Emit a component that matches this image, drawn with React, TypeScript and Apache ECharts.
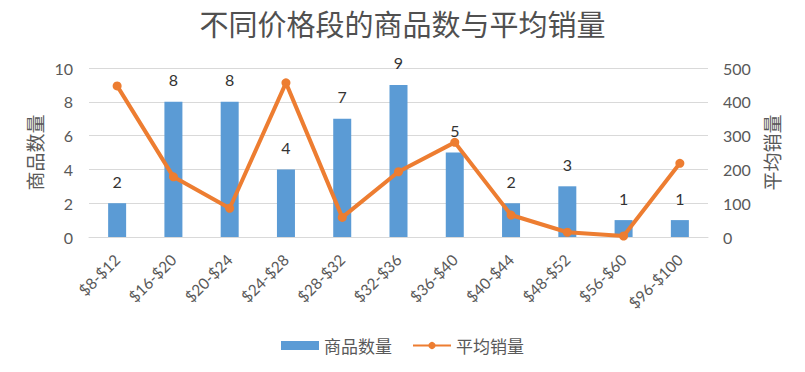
import React, { useEffect, useRef } from "react";
import * as echarts from "echarts";

const categories = ["$8-$12", "$16-$20", "$20-$24", "$24-$28", "$28-$32", "$32-$36", "$36-$40", "$40-$44", "$48-$52", "$56-$60", "$96-$100"];
const productCounts = [2, 8, 8, 4, 7, 9, 5, 2, 3, 1, 1];
const avgSales = [447, 178, 85, 456, 58, 193, 280, 65, 14, 3, 218];
const leftTicks = { min: 0, max: 10, interval: 2 };
const rightTicks = { min: 0, max: 500, interval: 100 };

const FONT = "Lato, 'Noto Sans CJK SC', sans-serif";
const CJK = "'Noto Sans CJK SC', sans-serif";

export default function App() {
  const ref = useRef<HTMLDivElement>(null);
  useEffect(() => {
    if (!ref.current) return;
    const chart = echarts.init(ref.current, null, { renderer: "svg" });
    chart.setOption({
      animation: false,
      backgroundColor: "#ffffff",
      title: {
        text: "不同价格段的商品数与平均销量",
        left: "center",
        top: 3,
        textStyle: { fontFamily: CJK, fontSize: 29, fontWeight: "normal", color: "#505050" },
      },
      grid: { left: 89, right: 97, top: 68, bottom: 135, containLabel: false },
      legend: {
        bottom: 13,
        left: "center",
        itemGap: 20,
        itemWidth: 38,
        itemHeight: 9,
        textStyle: { fontFamily: CJK, fontSize: 17, color: "#595959" },
        data: [
          { name: "商品数量", icon: "rect" },
          { name: "平均销量" },
        ],
      },
      xAxis: {
        type: "category",
        data: categories,
        axisLine: { lineStyle: { color: "#d9d9d9", width: 1 } },
        axisTick: { show: false },
        axisLabel: { rotate: 45, fontFamily: FONT, fontSize: 15.5, color: "#595959", margin: 20, interval: 0 },
      },
      yAxis: [
        {
          type: "value",
          ...leftTicks,
          name: "商品数量",
          nameLocation: "middle",
          nameGap: 42,
          nameTextStyle: { fontFamily: CJK, fontSize: 19, color: "#595959" },
          axisLabel: { fontFamily: FONT, fontSize: 16, color: "#595959", margin: 16 },
          axisLine: { show: false },
          axisTick: { show: false },
          splitLine: { lineStyle: { color: "#d9d9d9", width: 1 } },
        },
        {
          type: "value",
          ...rightTicks,
          name: "平均销量",
          nameLocation: "middle",
          nameGap: 46,
          nameTextStyle: { fontFamily: CJK, fontSize: 19, color: "#595959" },
          axisLabel: { fontFamily: FONT, fontSize: 16, color: "#595959", margin: 15 },
          axisLine: { show: false },
          axisTick: { show: false },
          splitLine: { show: false },
        },
      ],
      series: [
        {
          name: "商品数量",
          type: "bar",
          data: productCounts,
          yAxisIndex: 0,
          barWidth: 18,
          itemStyle: { color: "#5B9BD5" },
          label: {
            show: true,
            position: "top",
            distance: 14,
            fontFamily: FONT,
            fontSize: 16,
            color: "#333333",
          },
        },
        {
          name: "平均销量",
          type: "line",
          data: avgSales,
          yAxisIndex: 1,
          symbol: "circle",
          symbolSize: 9,
          lineStyle: { color: "#ED7D31", width: 4 },
          itemStyle: { color: "#ED7D31" },
        },
      ],
    });
    return () => chart.dispose();
  }, []);
  return (
    <div
      ref={ref}
      style={{ position: "fixed", left: 0, top: 0, width: 805, height: 372, margin: 0 }}
    />
  );
}
